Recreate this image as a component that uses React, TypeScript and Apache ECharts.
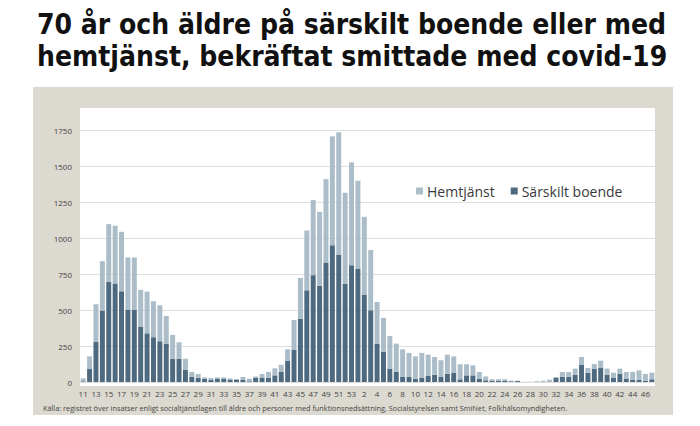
import React, { useEffect, useRef } from "react";
import * as echarts from "echarts";

const weeks2020 = ["11","12","13","14","15","16","17","18","19","20","21","22","23","24","25","26","27","28","29","30","31","32","33","34","35","36","37","38","39","40","41","42","43","44","45","46","47","48","49","50","51","52","53"];
const weeks2021 = ["1","2","3","4","5","6","7","8","9","10","11","12","13","14","15","16","17","18","19","20","21","22","23","24","25","26","27","28","29","30","31","32","33","34","35","36","37","38","39","40","41","42","43","44","45","46","47"];

const sarskilt2020 = [5,90,278,496,695,684,630,503,503,382,338,311,283,267,162,162,86,35,30,21,16,21,21,14,14,14,5,28,28,28,46,70,146,225,440,637,742,668,830,950,885,681,811];
const sarskilt2021 = [788,607,498,267,209,93,70,35,35,23,30,42,51,35,58,65,19,46,46,21,12,7,7,7,5,7,0,0,1,2,3,28,35,35,51,121,65,93,97,51,28,56,21,14,16,9,19];

const hemtjanst2020 = [20,88,262,343,401,401,413,362,362,258,290,250,250,192,165,114,76,35,26,11,12,11,11,11,7,21,18,11,28,42,49,50,81,206,283,415,521,514,579,756,849,633,714];
const hemtjanst2021 = [610,540,418,289,236,227,197,192,167,155,172,148,123,116,132,113,104,77,70,49,27,12,12,12,4,2,2,2,4,7,13,7,35,35,42,53,32,32,51,42,37,37,49,56,65,47,46];

const yTicks = [0, 250, 500, 750, 1000, 1250, 1500, 1750];

const titleLines = ["70 år och äldre på särskilt boende eller med", "hemtjänst, bekräftat smittade med covid-19"];
const sourceText = "Källa: registret över insatser enligt socialtjänstlagen till äldre och personer med funktionsnedsättning, Socialstyrelsen samt SmiNet, Folkhälsomyndigheten.";

export default function App() {
  const ref = useRef<HTMLDivElement>(null);
  useEffect(() => {
    if (!ref.current) return;
    const chart = echarts.init(ref.current, null, { renderer: "svg" });
    const categories = [...weeks2020, ...weeks2021];
    const sarskilt = [...sarskilt2020, ...sarskilt2021];
    const hemtjanst = [...hemtjanst2020, ...hemtjanst2021];
    const axisFont = "'Open Sans', 'DejaVu Sans', sans-serif";
    chart.setOption({
      animation: false,
      backgroundColor: "#ffffff",
      title: {
        text: titleLines.join("\n"),
        left: 32,
        top: 3,
        textStyle: {
          fontFamily: "'DejaVu Sans Condensed', 'DejaVu Sans', sans-serif",
          fontWeight: "bold",
          fontSize: 28,
          lineHeight: 32,
          color: "#111111",
        },
      },
      graphic: [
        { type: "rect", z: -10, shape: { x: 33, y: 87, width: 640, height: 328 }, style: { fill: "#dcd9d0" }, silent: true },
        { type: "rect", z: -9, shape: { x: 80, y: 108, width: 575, height: 278 }, style: { fill: "#ffffff" }, silent: true },
        {
          type: "text",
          left: 43,
          top: 404,
          style: { text: sourceText, fontSize: 7.3, fill: "#444444", fontFamily: axisFont },
        },
      ],
      legend: {
        data: ["Hemtjänst", "Särskilt boende"],
        left: 411,
        top: 179,
        icon: "rect",
        itemWidth: 7,
        itemHeight: 7,
        itemGap: 16,
        textStyle: { fontSize: 14, color: "#3a3a3a", fontFamily: axisFont, padding: [0, 0, 0, -1] },
      },
      grid: { left: 80, right: 45, top: 130, bottom: 44 },
      xAxis: {
        type: "category",
        data: categories,
        axisTick: { show: false },
        axisLine: { show: false },
        axisLabel: { interval: 1, fontSize: 8, color: "#444444", margin: 7, fontFamily: axisFont },
      },
      yAxis: {
        type: "value",
        min: yTicks[0],
        max: yTicks[yTicks.length - 1],
        interval: 250,
        axisLabel: { fontSize: 8, color: "#444444", margin: 8, fontFamily: axisFont, formatter: (v: number) => String(v) },
        splitLine: { lineStyle: { color: "#dedede", width: 1 } },
        axisLine: { show: false },
        axisTick: { show: false },
      },
      series: [
        {
          name: "Särskilt boende",
          type: "bar",
          stack: "total",
          data: sarskilt,
          barCategoryGap: "22%",
          itemStyle: { color: "#4e6a80" },
        },
        {
          name: "Hemtjänst",
          type: "bar",
          stack: "total",
          data: hemtjanst,
          barCategoryGap: "22%",
          itemStyle: { color: "#abbdc8" },
        },
      ],
    });
    return () => chart.dispose();
  }, []);
  return <div ref={ref} style={{ position: "fixed", left: 0, top: 0, width: 700, height: 426 }} />;
}
